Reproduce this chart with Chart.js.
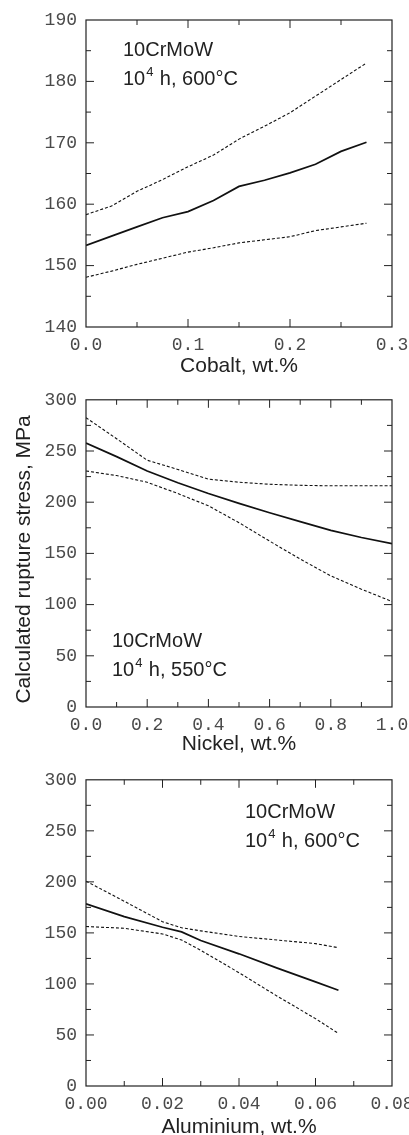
<!DOCTYPE html>
<html>
<head>
<meta charset="utf-8">
<script src="https://cdn.jsdelivr.net/npm/chart.js@4"></script>
<style>
    html, body { margin: 0; padding: 0; background: #fff; overflow: hidden; width: 409px; height: 1135px; }
    canvas { position: absolute; left: 0; }
</style>
</head>
<body>
<canvas id="graficoCobalto" width="430" height="380" style="top:0px"></canvas>
<canvas id="graficoNiquel" width="430" height="380" style="top:380px"></canvas>
<canvas id="graficoAluminio" width="430" height="380" style="top:760px"></canvas>
<script>
// ------------------ DADOS ------------------
const cobaltX     = [0, 0.025, 0.05, 0.075, 0.1, 0.125, 0.15, 0.175, 0.2, 0.225, 0.25, 0.275];
const cobaltMean  = [153.3, 154.8, 156.3, 157.8, 158.8, 160.6, 162.9, 163.9, 165.1, 166.5, 168.6, 170.1];
const cobaltUpper = [158.3, 159.7, 162.1, 164.0, 166.1, 168.0, 170.6, 172.7, 174.9, 177.6, 180.3, 183.0];
const cobaltLower = [148.1, 149.1, 150.2, 151.2, 152.2, 152.9, 153.7, 154.2, 154.7, 155.7, 156.3, 156.9];

const nickelX     = [0, 0.1, 0.2, 0.3, 0.4, 0.5, 0.6, 0.7, 0.8, 0.9, 1.0];
const nickelMean  = [257.8, 244.5, 230.5, 219, 208.5, 198.8, 189.7, 181, 172.5, 165.5, 159.5];
const nickelUpper = [282.5, 262, 241, 232, 222.5, 219.5, 217.5, 216.5, 216, 216, 216];
const nickelLower = [230.5, 226, 219.5, 208.5, 196.5, 180, 162, 144.5, 128, 115, 103];

const aluX     = [0, 0.01, 0.02, 0.025, 0.03, 0.04, 0.05, 0.06, 0.066];
const aluMean  = [178.5, 166, 155.5, 151, 142.5, 129.5, 115.5, 102, 93.8];
const aluUpper = [200.7, 181, 161, 155, 152, 146.5, 143, 139.5, 135.5];
const aluLower = [156.3, 154.5, 149, 143, 133, 111, 88, 66, 51.5];

// eixos: [min, max, passo menor, casas decimais]
const cobaltXTicks = [0, 0.3, 0.05, 1];
const cobaltYTicks = [140, 190, 5, 0];
const nickelXTicks = [0, 1.0, 0.1, 1];
const nickelYTicks = [0, 300, 25, 0];
const aluXTicks    = [0, 0.08, 0.01, 2];
const aluYTicks    = [0, 300, 25, 0];

const yTitle = "Calculated rupture stress, MPa";

document.addEventListener("DOMContentLoaded", () => {
    const INK = "#222";
    const monoFont = { family: "'Liberation Mono', 'Courier New', monospace", size: 18 };
    const sansFont = "'Liberation Sans', Arial, sans-serif";

    // ------------------ MOLDURA, TICKS E ANOTAÇÃO ------------------
    const molduraPlugin = {
        id: "moldura",
        afterDraw(chart, args, opts) {
            const { ctx, chartArea: a, scales: { x, y } } = chart;
            const line = (x1, y1, x2, y2) => {
                ctx.beginPath(); ctx.moveTo(x1, y1); ctx.lineTo(x2, y2); ctx.stroke();
            };
            ctx.save();
            ctx.strokeStyle = INK;
            ctx.lineWidth = 1.2;
            ctx.strokeRect(a.left, a.top, a.right - a.left, a.bottom - a.top);

            ctx.lineWidth = 1;
            x.ticks.forEach(t => {
                const px = x.getPixelForValue(t.value);
                if (px <= a.left + 1 || px >= a.right - 1) return;
                const len = t.label === "" ? 5 : 8;
                line(px, a.bottom, px, a.bottom - len);
                line(px, a.top, px, a.top + len);
            });
            y.ticks.forEach(t => {
                const py = y.getPixelForValue(t.value);
                if (py <= a.top + 1 || py >= a.bottom - 1) return;
                const len = t.label === "" ? 5 : 8;
                line(a.left, py, a.left + len, py);
                line(a.right, py, a.right - len, py);
            });

            // texto "10CrMoW / 10^4 h, T"
            const an = opts.anotacao;
            if (an) {
                const tx = a.left + an.dx;
                ctx.fillStyle = INK;
                ctx.textBaseline = "alphabetic";
                ctx.textAlign = "left";
                ctx.font = "20px " + sansFont;
                ctx.fillText("10CrMoW", tx, a.top + an.dy);
                const base2 = a.top + an.dy + 29;
                ctx.fillText("10", tx, base2);
                const w10 = ctx.measureText("10").width;
                ctx.font = "13px " + sansFont;
                ctx.fillText("4", tx + w10 + 1, base2 - 9);
                ctx.font = "20px " + sansFont;
                ctx.fillText(" h, " + an.temp, tx + w10 + 9, base2);
            }

            // título vertical (só no gráfico do meio)
            if (opts.yTitle) {
                ctx.translate(24, (a.top + a.bottom) / 2 + 6);
                ctx.rotate(-Math.PI / 2);
                ctx.font = "21px " + sansFont;
                ctx.textAlign = "center";
                ctx.textBaseline = "middle";
                ctx.fillText(opts.yTitle, 0, 0);
            }
            ctx.restore();
        }
    };

    const tickCfg = (t, axis) => ({
        min: t[0],
        max: t[1],
        ticks: {
            stepSize: t[2],
            autoSkip: false,
            maxRotation: 0,
            color: "#4a4a4a",
            font: monoFont,
            padding: axis === "x" ? 7 : 9,
            callback: v => (Math.round((v - t[0]) / t[2]) % 2 === 0 ? Number(v).toFixed(t[3]) : "")
        },
        grid: { display: false, drawTicks: false },
        border: { display: false }
    });

    const serie = (xs, ys, dashed) => ({
        data: xs.map((v, i) => ({ x: v, y: ys[i] })),
        borderColor: "#111",
        borderWidth: dashed ? 1.1 : 1.7,
        borderDash: dashed ? [3, 2] : [],
        pointRadius: 0,
        tension: 0,
        fill: false
    });

    function grafico(id, xs, mean, upper, lower, xt, yt, xLabel, opts) {
        const canvas = document.getElementById(id);
        const H = canvas.height;
        const xScale = tickCfg(xt, "x");
        xScale.type = "linear";
        xScale.title = {
            display: true,
            text: xLabel,
            color: INK,
            font: { family: sansFont, size: 21 },
            padding: { top: 0, bottom: opts.titlePad }
        };
        xScale.afterFit = s => { s.height = H - opts.plotBottom; };

        const yScale = tickCfg(yt, "y");
        yScale.afterFit = s => { s.width = 86; };

        return new Chart(canvas.getContext("2d"), {
            type: "line",
            data: {
                datasets: [
                    serie(xs, upper, true),
                    serie(xs, mean, false),
                    serie(xs, lower, true)
                ]
            },
            options: {
                responsive: false,
                animation: false,
                devicePixelRatio: 1,
                layout: { padding: { top: opts.plotTop, left: 0, right: canvas.width - 392, bottom: 0 } },
                plugins: {
                    legend: { display: false },
                    tooltip: { enabled: false },
                    moldura: { anotacao: opts.anotacao, yTitle: opts.yTitle }
                },
                scales: { x: xScale, y: yScale }
            },
            plugins: [molduraPlugin]
        });
    }

    // ------------------ GRÁFICOS ------------------
    grafico("graficoCobalto", cobaltX, cobaltMean, cobaltUpper, cobaltLower,
        cobaltXTicks, cobaltYTicks, "Cobalt, wt.%",
        { plotTop: 20, plotBottom: 327, titlePad: 1, anotacao: { dx: 37, dy: 36, temp: "600°C" } });

    grafico("graficoNiquel", nickelX, nickelMean, nickelUpper, nickelLower,
        nickelXTicks, nickelYTicks, "Nickel, wt.%",
        { plotTop: 18, plotBottom: 327, titlePad: 3, yTitle: yTitle, anotacao: { dx: 26, dy: 247, temp: "550°C" } });

    grafico("graficoAluminio", aluX, aluMean, aluUpper, aluLower,
        aluXTicks, aluYTicks, "Aluminium, wt.%",
        { plotTop: 19, plotBottom: 326, titlePad: 0, anotacao: { dx: 159, dy: 38, temp: "600°C" } });
});
</script>
</body>
</html>
